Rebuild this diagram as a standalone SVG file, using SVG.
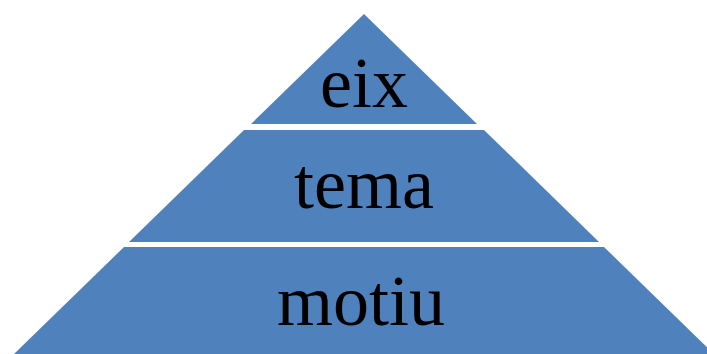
<svg xmlns="http://www.w3.org/2000/svg" width="707" height="354" viewBox="0 0 707 354">
<style>
.lvl{fill:#4F81BD;}
.lbl{font-family:"Liberation Serif","Times New Roman",serif;font-size:72px;fill:#000;text-anchor:middle;}
</style>
<rect width="707" height="354" fill="#fff"/>
<g id="eix">
<polygon class="lvl" points="364,14 477,124 251,124"/>
<text class="lbl" x="364" y="107">eix</text>
</g>
<g id="tema">
<polygon class="lvl" points="244,130 484,130 599,242 129,242"/>
<text class="lbl" x="364" y="208">tema</text>
</g>
<g id="motiu">
<polygon class="lvl" points="124,247 604,247 714,354 14,354"/>
<text class="lbl" x="361" y="325">motiu</text>
</g>
</svg>
